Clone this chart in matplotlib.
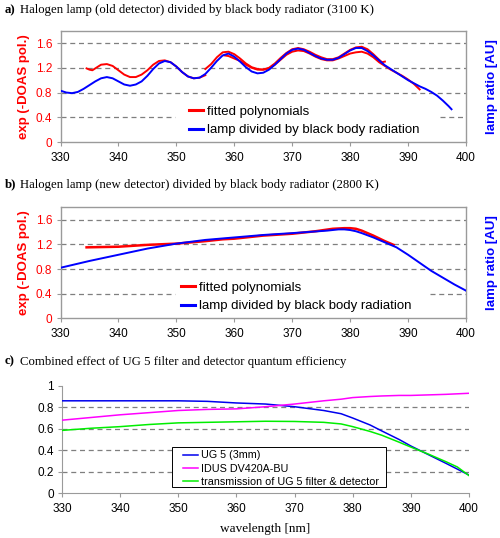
import matplotlib
matplotlib.use("Agg")
import matplotlib.pyplot as plt
from matplotlib.lines import Line2D
from matplotlib.patches import Rectangle

# ---------------- data ----------------
# Panel a: old detector
blue_a_x = [330, 331, 332, 333, 334, 335, 336, 337, 338, 339, 340, 341, 342, 343, 344, 345, 346, 347, 348, 349,
            350, 351, 352, 353, 354, 355, 356, 357, 358, 359, 360, 361, 362, 363, 364, 365, 366, 367, 368, 369,
            370, 371, 372, 373, 374, 375, 376, 377, 378, 379, 380, 381, 382, 383, 384, 385, 386, 387, 388, 389,
            390, 391, 392, 393, 394, 395, 396, 397, 397.5]
blue_a_y = [0.83, 0.80, 0.79, 0.81, 0.86, 0.92, 0.98, 1.03, 1.05, 1.03, 0.98, 0.93, 0.91, 0.93, 0.98, 1.07, 1.18, 1.27, 1.31, 1.29,
            1.22, 1.13, 1.06, 1.03, 1.04, 1.10, 1.20, 1.31, 1.40, 1.43, 1.38, 1.30, 1.21, 1.14, 1.11, 1.12, 1.17, 1.25, 1.34, 1.43,
            1.49, 1.51, 1.49, 1.44, 1.39, 1.35, 1.33, 1.33, 1.36, 1.42, 1.48, 1.52, 1.52, 1.47, 1.40, 1.32, 1.24, 1.18, 1.12, 1.06,
            1.00, 0.95, 0.90, 0.86, 0.81, 0.75, 0.67, 0.58, 0.53]

red_a1_x = [334.5, 335, 335.5, 336, 337, 338, 339, 340, 341, 342, 343, 344, 345, 346, 347, 348, 349, 350, 351, 352, 353, 354, 355]
red_a1_y = [1.19, 1.17, 1.16, 1.19, 1.25, 1.26, 1.23, 1.16, 1.09, 1.05, 1.05, 1.09, 1.16, 1.25, 1.31, 1.32, 1.29, 1.22, 1.13, 1.06, 1.03, 1.04, 1.08]

red_a2_x = [355, 356, 357, 358, 359, 360, 361, 362, 363, 364, 365, 366, 367, 368, 369, 370, 371, 372, 373, 374,
            375, 376, 377, 378, 379, 380, 381, 382, 383, 384, 385, 385.5, 386]
red_a2_y = [1.18, 1.26, 1.37, 1.45, 1.46, 1.42, 1.35, 1.27, 1.21, 1.18, 1.17, 1.20, 1.27, 1.36, 1.44, 1.50, 1.52, 1.50, 1.46, 1.41,
            1.37, 1.34, 1.34, 1.37, 1.43, 1.49, 1.53, 1.54, 1.50, 1.42, 1.33, 1.29, 1.30]

red_a3_x = [358.3, 359, 360, 361, 362, 363, 364, 365, 366, 367, 368, 369, 370, 371, 372, 373, 374, 375, 376, 377,
            378, 379, 380, 381, 382, 383, 384, 385, 386, 387, 388, 389, 390, 391, 392]
red_a3_y = [1.40, 1.39, 1.35, 1.31, 1.25, 1.20, 1.17, 1.17, 1.19, 1.25, 1.33, 1.41, 1.46, 1.48, 1.47, 1.43, 1.38, 1.34, 1.32, 1.32,
            1.35, 1.39, 1.43, 1.45, 1.46, 1.43, 1.37, 1.29, 1.23, 1.17, 1.12, 1.07, 1.01, 0.94, 0.85]

# Panel b: new detector
blue_b_x = [330, 335, 340, 345, 350, 355, 360, 365, 370, 373, 376, 378, 379, 380, 381, 382, 384, 386, 388, 390, 392, 394, 396, 398, 400]
blue_b_y = [0.82, 0.93, 1.03, 1.13, 1.21, 1.27, 1.31, 1.35, 1.38, 1.40, 1.42, 1.44, 1.44, 1.43, 1.41, 1.38, 1.31, 1.23, 1.15, 1.03, 0.90, 0.77, 0.66, 0.55, 0.45]

red_b_x = [334.5, 340, 345, 350, 355, 358, 360, 362, 365, 370, 374, 377, 379, 380, 381, 382, 384, 386, 387.5]
red_b_y = [1.15, 1.16, 1.19, 1.21, 1.25, 1.28, 1.29, 1.31, 1.34, 1.37, 1.41, 1.45, 1.46, 1.46, 1.45, 1.42, 1.34, 1.25, 1.19]

# Panel c: UG5 filter and detector
wl_c = [330, 335, 340, 345, 350, 355, 360, 365, 370, 375, 378, 380, 383, 385, 388, 390, 393, 396, 398, 400]
ug5 = [0.86, 0.86, 0.86, 0.86, 0.86, 0.855, 0.84, 0.83, 0.805, 0.77, 0.74, 0.70, 0.635, 0.58, 0.50, 0.44, 0.36, 0.28, 0.225, 0.17]
idus = [0.68, 0.705, 0.73, 0.75, 0.77, 0.78, 0.785, 0.805, 0.83, 0.86, 0.875, 0.89, 0.90, 0.905, 0.91, 0.91, 0.915, 0.92, 0.925, 0.93]
trans = [0.585, 0.605, 0.62, 0.64, 0.655, 0.66, 0.665, 0.67, 0.668, 0.66, 0.645, 0.62, 0.575, 0.54, 0.475, 0.43, 0.365, 0.295, 0.245, 0.165]

x_ticks = [330, 340, 350, 360, 370, 380, 390, 400]
yticks_ab = [0, 0.4, 0.8, 1.2, 1.6]
ytick_labels_ab = ["0", "0.4", "0.8", "1.2", "1.6"]
yticks_c = [0, 0.2, 0.4, 0.6, 0.8, 1.0]
ytick_labels_c = ["0", "0.2", "0.4", "0.6", "0.8", "1"]

titles = [("a)", "Halogen lamp (old detector) divided by black body radiator (3100 K)"),
          ("b)", "Halogen lamp (new detector) divided by black body radiator (2800 K)"),
          ("c)", "Combined effect of UG 5 filter and detector quantum efficiency")]

# ---------------- style ----------------
plt.rcParams['font.family'] = ['Liberation Sans', 'DejaVu Sans']
RED = '#ff0000'
BLUE = '#0000ff'
GRIDC = '#7f7f7f'
SPINEC = '#9a9a9a'
SERIF = 'Liberation Serif'
DASH = (0, (4, 3))

fig = plt.figure(figsize=(5.0, 5.38), dpi=100)

ax_a = fig.add_axes([0.121, 0.736, 0.811, 0.207])
ax_b = fig.add_axes([0.121, 0.408, 0.811, 0.207])
ax_c = fig.add_axes([0.124, 0.083, 0.814, 0.200])


def style_ab(ax, gap):
    ax.set_xlim(330, 400)
    ax.set_ylim(0, 1.8)
    ax.set_xticks(x_ticks)
    ax.set_xticklabels([str(t) for t in x_ticks], fontsize=8.5)
    ax.set_yticks(yticks_ab)
    ax.set_yticklabels(ytick_labels_ab, fontsize=8.5, color=RED)
    for s in ax.spines.values():
        s.set_color(SPINEC)
        s.set_linewidth(1.0)
    ax.tick_params(axis='x', direction='out', length=3, color=SPINEC, pad=4)
    ax.tick_params(axis='y', direction='out', length=3, color=SPINEC, pad=3)
    for y in yticks_ab[2:]:
        ax.axhline(y, color=GRIDC, lw=0.9, ls=DASH, zorder=0.5)
    # 0.4 grid line interrupted by the legend box
    ax.axhline(0.4, xmin=0, xmax=gap[0], color=GRIDC, lw=0.9, ls=DASH, zorder=0.5)
    ax.axhline(0.4, xmin=gap[1], xmax=1, color=GRIDC, lw=0.9, ls=DASH, zorder=0.5)
    ax.set_ylabel("exp (-DOAS pol.)", color=RED, fontsize=9.5, fontweight='bold', labelpad=4)
    ax.text(1.063, 0.5, "lamp ratio [AU]", transform=ax.transAxes, rotation=90,
            color=BLUE, fontsize=9.5, fontweight='bold', ha='center', va='center')


# Panel a
style_ab(ax_a, (0.283, 0.936))
ax_a.plot(red_a1_x, red_a1_y, color=RED, lw=1.4, zorder=2)
ax_a.plot(red_a2_x, red_a2_y, color=RED, lw=1.4, zorder=2)
ax_a.plot(red_a3_x, red_a3_y, color=RED, lw=1.4, zorder=2)
ax_a.plot(blue_a_x, blue_a_y, color=BLUE, lw=1.4, zorder=3)

# Panel b
style_ab(ax_b, (0.283, 0.911))
ax_b.plot(red_b_x, red_b_y, color=RED, lw=1.8, zorder=2)
ax_b.plot(blue_b_x, blue_b_y, color=BLUE, lw=1.4, zorder=3)

handles_ab = [Line2D([], [], color=RED, lw=2.2), Line2D([], [], color=BLUE, lw=2.2)]
labels_ab = ["fitted polynomials", "lamp divided by black body radiation"]
for ax, anchor, hl in ((ax_a, (0.318, 0.325), 1.0), (ax_b, (0.296, 0.33), 1.1)):
    leg = ax.legend(handles_ab, labels_ab, loc='upper left', bbox_to_anchor=anchor,
                    fontsize=9.5, frameon=False,
                    handlelength=hl, handletextpad=0.3, labelspacing=0.45, borderpad=0.0,
                    borderaxespad=0)
    leg.set_zorder(1)

# Panel c
ax_c.set_xlim(330, 400)
ax_c.set_ylim(0, 1.0)
ax_c.set_xticks(x_ticks)
ax_c.set_xticklabels([str(t) for t in x_ticks], fontsize=8.5)
ax_c.set_yticks(yticks_c)
ax_c.set_yticklabels(ytick_labels_c, fontsize=8.5)
ax_c.spines['top'].set_visible(False)
ax_c.spines['right'].set_visible(False)
for s in ('left', 'bottom'):
    ax_c.spines[s].set_color(SPINEC)
ax_c.tick_params(axis='x', direction='out', length=3, color=SPINEC, pad=4)
ax_c.tick_params(axis='y', direction='out', length=3, color=SPINEC, pad=3)
for y in yticks_c[1:-1]:
    ax_c.axhline(y, color=GRIDC, lw=0.9, ls=DASH, zorder=0.5)
ax_c.plot(wl_c, ug5, color='#0000ee', lw=1.1, label="UG 5 (3mm)", zorder=3)
ax_c.plot(wl_c, idus, color='#ff00ff', lw=1.1, label="IDUS DV420A-BU", zorder=3)
ax_c.plot(wl_c, trans, color='#00ee00', lw=1.1, label="transmission of UG 5 filter & detector", zorder=3)
ax_c.add_patch(Rectangle((0.270, 0.056), 0.526, 0.372, transform=ax_c.transAxes,
                         facecolor='white', edgecolor='black', lw=0.7, zorder=4))
legc = ax_c.legend(loc='upper left', bbox_to_anchor=(0.297, 0.40), fontsize=7.75, frameon=False,
                   handlelength=1.45, handletextpad=0.2, labelspacing=0.3, borderpad=0.0,
                   borderaxespad=0)
legc.set_zorder(5)
ax_c.set_xlabel("wavelength [nm]", fontsize=9.5, family=SERIF, labelpad=6)

# Titles
ys = [0.981, 0.657, 0.328]
for (tag, txt), y in zip(titles, ys):
    fig.text(0.010, y, tag, fontsize=9.2, family=SERIF, fontweight='bold', va='center', ha='left')
    fig.text(0.010 + 0.031, y, txt, fontsize=9.2, family=SERIF, va='center', ha='left')

fig.savefig("out.png", dpi=100)
